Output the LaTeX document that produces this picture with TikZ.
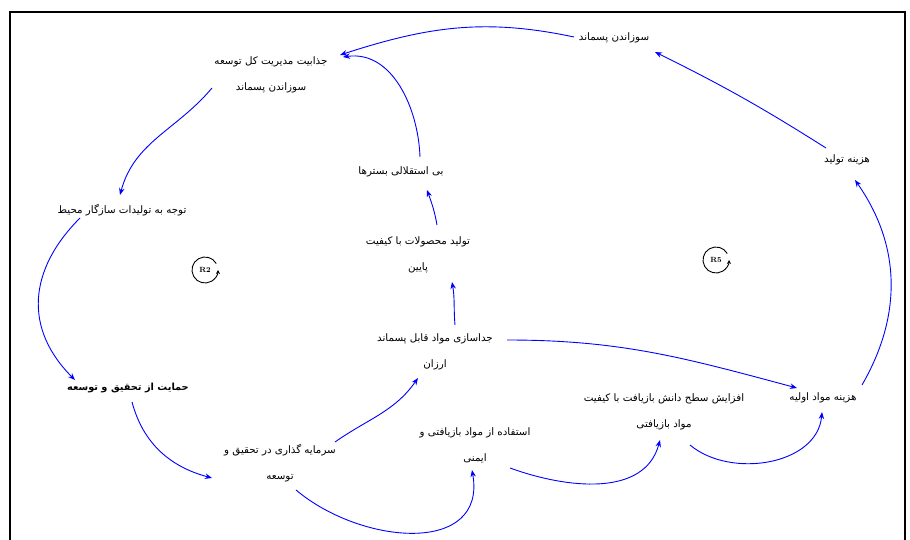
\documentclass[tikz,border=0pt]{standalone}
\usepackage{fontspec}
\newfontfamily\fa[Script=Arabic]{DejaVu Sans}
\TeXXeTstate=1
\usetikzlibrary{arrows.meta}
\newcommand{\fatxt}[1]{\beginR #1\endR}
\begin{document}
\begin{tikzpicture}[x=1pt,y=1pt,
  lbl/.style={font=\fa\fontsize{10.3}{11}\selectfont, inner sep=1pt, align=center},
  biglbl/.style={font=\fa\bfseries\fontsize{9.8}{11}\selectfont, inner sep=1pt, align=center},
  link/.style={draw={rgb,255:red,0;green,0;blue,255}, line width=0.9pt, -{Stealth[length=7pt,width=5.5pt]}},
  loopsym/.style={line width=0.9pt, -{Stealth[length=4pt,width=4pt]}},
  looplbl/.style={font=\fontsize{7.5}{8}\selectfont\bfseries, inner sep=1pt}]
\useasboundingbox (0,0) rectangle (910,-540);
\draw[line width=1.5pt] (10,-545) -- (10,-12) -- (905,-12) -- (905,-545);

% nodes
\node[lbl] (soz) at (614,-38) {\fatxt{سوزاندن پسماند}};
\node[lbl] (jaz) at (271,-75) {\fatxt{جذابیت مدیریت کل توسعه}\\[15pt]\fatxt{سوزاندن پسماند}};
\node[lbl] (hzt) at (847,-160) {\fatxt{هزینه تولید}};
\node[lbl] (tvj) at (122,-210) {\fatxt{توجه به تولیدات سازگار محیط}};
\node[lbl] (bie) at (401,-172) {\fatxt{بی استقلالی بسترها}};
\node[lbl] (tmk) at (418,-255) {\fatxt{تولید محصولات با کیفیت}\\[15pt]\fatxt{پایین}};
\node[lbl] (jds) at (435,-352) {\fatxt{جداسازی مواد قابل پسماند}\\[15pt]\fatxt{ارزان}};
\node[biglbl] (hmt) at (128,-388) {\fatxt{حمایت از تحقیق و توسعه}};
\node[lbl] (srm) at (280,-463) {\fatxt{سرمایه گذاری در تحقیق و}\\[15pt]\fatxt{توسعه}};
\node[lbl] (est) at (475,-445) {\fatxt{استفاده از مواد بازیافتی و}\\[15pt]\fatxt{ایمنی}};
\node[lbl] (afz) at (664,-412) {\fatxt{افزایش سطح دانش بازیافت با کیفیت}\\[15pt]\fatxt{مواد بازیافتی}};
\node[lbl] (hmo) at (823,-398) {\fatxt{هزینه مواد اولیه}};

% loop markers
\node[looplbl] (r2) at (205,-270) {R2};
\draw[loopsym] ([shift={(30:13)}]r2.center) arc (30:360:13);
\node[looplbl] (r5) at (716,-260) {R5};
\draw[loopsym] ([shift={(30:13)}]r5.center) arc (30:360:13);

% connectors
\draw[link] ([shift={(-21,12)}]hzt.center) to[bend right=3] ([shift={(41,-14)}]soz.center);
\draw[link] ([shift={(-40,1)}]soz.center) to[out=168,in=18] ([shift={(69,20)}]jaz.center);
\draw[link] ([shift={(19,15)}]bie.center) to[out=92,in=8] ([shift={(72,18)}]jaz.center);
\draw[link] ([shift={(-59,-13)}]jaz.center) to[out=230,in=75] ([shift={(-2,15)}]tvj.center);
\draw[link] ([shift={(-42,-8)}]tvj.center) to[out=225,in=135,looseness=1.15] ([shift={(-53,8)}]hmt.center);
\draw[link] ([shift={(4,-14)}]hmt.center) to[out=-75,in=165] ([shift={(-68,-15)}]srm.center);
\draw[link] ([shift={(55,21)}]srm.center) to[out=35,in=235] ([shift={(-17,-26)}]jds.center);
\draw[link] ([shift={(20,27)}]jds.center) to[out=95,in=-80] ([shift={(34,-27)}]tmk.center);
\draw[link] ([shift={(19,30)}]tmk.center) to[out=100,in=-70] ([shift={(26,-18)}]bie.center);
\draw[link] ([shift={(72,12)}]jds.center) to[out=0,in=165] ([shift={(-26,10)}]hmo.center);
\draw[link] ([shift={(16,-27)}]srm.center) to[out=-40,in=-80,looseness=1.25] ([shift={(-3,-25)}]est.center);
\draw[link] ([shift={(35,-23)}]est.center) to[out=-20,in=-105] ([shift={(-4,-28)}]afz.center);
\draw[link] ([shift={(26,-33)}]afz.center) to[out=-40,in=-95] ([shift={(-1,-14)}]hmo.center);
\draw[link] ([shift={(39,13)}]hmo.center) to[out=60,in=-55] ([shift={(8,-20)}]hzt.center);
\end{tikzpicture}
\end{document}
